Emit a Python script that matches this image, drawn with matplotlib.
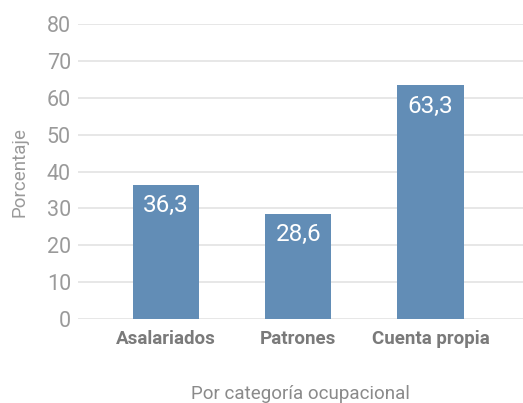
import matplotlib
matplotlib.use("Agg")
import matplotlib.pyplot as plt
from matplotlib import font_manager

# Data
categories = ["Asalariados", "Patrones", "Cuenta propia"]
values = [36.3, 28.6, 63.3]
value_labels = ["36,3", "28,6", "63,3"]
y_ticks = [0, 10, 20, 30, 40, 50, 60, 70, 80]

names = {f.name for f in font_manager.fontManager.ttflist}
family = [n for n in ["Liberation Sans Narrow", "Roboto", "DejaVu Sans"] if n in names]
plt.rcParams['font.family'] = family

bar_color = "#628db6"
tick_gray = "#9a9a9a"
grid_gray = "#e3e3e3"

fig = plt.figure(figsize=(5.23, 4.03), dpi=100)
ax = fig.add_axes([0.149, 0.2077, 0.851, 0.7333])

x = list(range(len(categories)))
bars = ax.bar(x, values, width=0.5, color=bar_color, zorder=3)
for xi, v, lab in zip(x, values, value_labels):
    ax.annotate(lab, (xi, v), xytext=(0, -6.5), textcoords="offset points",
                ha="center", va="top", color="white", fontsize=17.5)

ax.set_ylim(0, 80)
ax.set_xlim(-0.667, 2.70)
ax.set_yticks(y_ticks)
ax.set_yticklabels([str(t) for t in y_ticks])
ax.set_xticks(x)
ax.set_xticklabels(categories, fontweight="bold", color="#7a7a7a", fontsize=13.5)
ax.tick_params(axis="y", length=0, pad=5, labelsize=15.5, labelcolor=tick_gray)
ax.tick_params(axis="x", length=0, pad=8)
ax.yaxis.grid(True, color=grid_gray, linewidth=1.2, zorder=0)
for s in ax.spines.values():
    s.set_visible(False)

ax.set_ylabel("Porcentaje", color=tick_gray, fontsize=13.5, labelpad=13)
ax.set_xlabel("Por categoría ocupacional", color="#8a8a8a", fontsize=13.5, labelpad=26)

fig.savefig("out.png", dpi=100)
